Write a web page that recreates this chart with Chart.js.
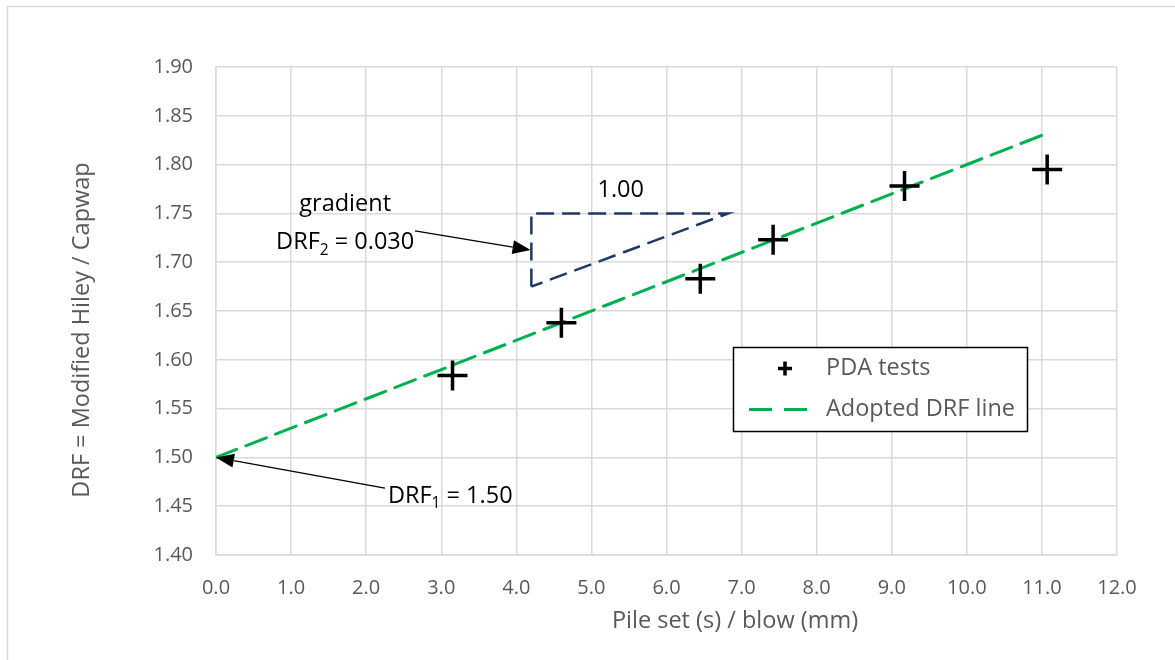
<!DOCTYPE html>
<html>
<head>
<meta charset="utf-8">
<script src="https://cdn.jsdelivr.net/npm/chart.js@4"></script>
<style>
  html, body { margin: 0; padding: 0; background: #fff; }
  #wrap { width: 1175px; height: 660px; position: relative; }
</style>
</head>
<body>
<div id="wrap"><canvas id="drfChart" width="1175" height="660"></canvas></div>
<script>
// ----- data -----
var pileSet = [3.15, 4.6, 6.45, 7.42, 9.17, 11.07];
var drfValues = [1.584, 1.638, 1.683, 1.723, 1.778, 1.795];

// adopted DRF line: DRF = 1.50 + 0.030 * s
var lineX = [0, 11.1];
var lineY = [1.5, 1.833];

// gradient triangle (vertical, horizontal, hypotenuse)
var triangleX = [4.2, 4.2, 6.82, 4.2];
var triangleY = [1.675, 1.75, 1.75, 1.675];

var seriesNames = ['PDA tests', 'Adopted DRF line'];
var xTitle = 'Pile set (s) / blow (mm)';
var yTitle = 'DRF = Modified Hiley / Capwap';

// text notes, in data units: [x, y, parts]  (parts: [text, isSubscript])
var notes = [
  [1.72, 1.759, [['gradient', false]]],
  [1.72, 1.720, [['DRF', false], ['2', true], [' = 0.030', false]]],
  [5.39, 1.774, [['1.00', false]]],
  [3.12, 1.4605, [['DRF', false], ['1', true], [' = 1.50', false]]]
];
// arrows, in data units: [fromX, fromY, tipX, tipY]
var arrows = [
  [2.65, 1.732, 4.19, 1.7125],
  [2.25, 1.4685, 0.0, 1.5]
];

var fontFamily = "'Open Sans', sans-serif";
var greyText = '#595959';
var gridGrey = '#D9D9D9';
var textSize = 23.5;

function toPoints(xs, ys) {
  return xs.map(function(x, i) { return { x: x, y: ys[i] }; });
}

function drawParts(ctx, cx, cy, parts, size) {
  var total = 0;
  parts.forEach(function(p) {
    ctx.font = (p[1] ? size * 0.66 : size) + 'px ' + fontFamily;
    total += ctx.measureText(p[0]).width;
  });
  var x = cx - total / 2;
  ctx.textAlign = 'left';
  ctx.textBaseline = 'middle';
  parts.forEach(function(p) {
    ctx.font = (p[1] ? size * 0.66 : size) + 'px ' + fontFamily;
    ctx.fillText(p[0], x, p[1] ? cy + size * 0.32 : cy);
    x += ctx.measureText(p[0]).width;
  });
}

function drawArrow(ctx, x1, y1, x2, y2) {
  var ang = Math.atan2(y2 - y1, x2 - x1);
  var len = 18, half = 7;
  var bx = x2 - Math.cos(ang) * len, by = y2 - Math.sin(ang) * len;
  ctx.strokeStyle = '#000';
  ctx.lineWidth = 1.3;
  ctx.beginPath();
  ctx.moveTo(x1, y1);
  ctx.lineTo(bx, by);
  ctx.stroke();
  ctx.fillStyle = '#000';
  ctx.beginPath();
  ctx.moveTo(x2, y2);
  ctx.lineTo(bx + Math.sin(ang) * half, by - Math.cos(ang) * half);
  ctx.lineTo(bx - Math.sin(ang) * half, by + Math.cos(ang) * half);
  ctx.closePath();
  ctx.fill();
}

var extrasPlugin = {
  id: 'extras',
  beforeDraw: function(chart) {
    var ctx = chart.ctx;
    ctx.save();
    ctx.strokeStyle = gridGrey;
    ctx.lineWidth = 1.5;
    ctx.beginPath();
    ctx.moveTo(7.5, 660);
    ctx.lineTo(7.5, 6.5);
    ctx.lineTo(1175, 6.5);
    ctx.stroke();
    ctx.restore();
  },
  afterDraw: function(chart) {
    var ctx = chart.ctx;
    var xs = chart.scales.x, ys = chart.scales.y;
    ctx.save();

    // axis titles (Excel places them slightly off-centre)
    ctx.fillStyle = greyText;
    ctx.font = textSize + 'px ' + fontFamily;
    ctx.textAlign = 'center';
    ctx.textBaseline = 'middle';
    ctx.fillText(xTitle, 735, 621);
    ctx.save();
    ctx.translate(82, 330);
    ctx.rotate(-Math.PI / 2);
    ctx.fillText(yTitle, 0, 0);
    ctx.restore();

    // notes and arrows
    ctx.fillStyle = '#000';
    notes.forEach(function(n) {
      drawParts(ctx, xs.getPixelForValue(n[0]), ys.getPixelForValue(n[1]), n[2], textSize);
    });
    arrows.forEach(function(a) {
      drawArrow(ctx, xs.getPixelForValue(a[0]), ys.getPixelForValue(a[1]),
                xs.getPixelForValue(a[2]), ys.getPixelForValue(a[3]));
    });

    // legend box
    var lx = 733.5, ly = 347.5, lw = 294, lh = 84;
    ctx.fillStyle = '#fff';
    ctx.fillRect(lx, ly, lw, lh);
    ctx.strokeStyle = '#000';
    ctx.lineWidth = 1.5;
    ctx.strokeRect(lx, ly, lw, lh);

    // marker entry
    var r1 = ly + 21, r2 = ly + 62;
    ctx.strokeStyle = '#000';
    ctx.lineWidth = 3.5;
    ctx.beginPath();
    ctx.moveTo(785 - 7, r1); ctx.lineTo(785 + 7, r1);
    ctx.moveTo(785, r1 - 7); ctx.lineTo(785, r1 + 7);
    ctx.stroke();

    // line entry
    ctx.strokeStyle = '#00B050';
    ctx.lineWidth = 3;
    ctx.setLineDash([23, 12]);
    ctx.beginPath();
    ctx.moveTo(749, r2); ctx.lineTo(812, r2);
    ctx.stroke();
    ctx.setLineDash([]);

    ctx.fillStyle = greyText;
    ctx.font = textSize + 'px ' + fontFamily;
    ctx.textAlign = 'left';
    ctx.textBaseline = 'middle';
    ctx.fillText(seriesNames[0], 826, r1);
    ctx.fillText(seriesNames[1], 826, r2);

    ctx.restore();
  }
};

var ctxDrf = document.getElementById('drfChart').getContext('2d');
var drfChart = new Chart(ctxDrf, {
  type: 'scatter',
  data: {
    datasets: [
      {
        label: seriesNames[0],
        data: toPoints(pileSet, drfValues),
        pointStyle: 'cross',
        pointRadius: 15,
        pointHoverRadius: 15,
        pointBorderWidth: 3.5,
        borderColor: '#000',
        backgroundColor: '#000'
      },
      {
        label: seriesNames[1],
        data: toPoints(lineX, lineY),
        showLine: true,
        pointRadius: 0,
        borderColor: '#00B050',
        borderWidth: 3,
        borderDash: [22, 10],
        borderCapStyle: 'round'
      },
      {
        label: 'gradient',
        data: toPoints(triangleX, triangleY),
        showLine: true,
        pointRadius: 0,
        borderColor: '#1F3864',
        borderWidth: 2.5,
        borderDash: [18, 8]
      }
    ]
  },
  options: {
    responsive: false,
    animation: false,
    devicePixelRatio: 1,
    layout: { padding: { left: 0, top: 67, right: 58, bottom: 0 } },
    plugins: {
      legend: { display: false },
      tooltip: { enabled: false }
    },
    scales: {
      x: {
        type: 'linear',
        min: 0,
        max: 12,
        afterFit: function(s) { s.height = 105; },
        ticks: {
          stepSize: 1,
          color: greyText,
          padding: 21,
          font: { family: fontFamily, size: 20 },
          callback: function(v) { return Number(v).toFixed(1); }
        },
        grid: { color: gridGrey, lineWidth: 1.5, drawTicks: false },
        border: { color: gridGrey, width: 1.5 }
      },
      y: {
        min: 1.4,
        max: 1.9,
        afterFit: function(s) { s.width = 216; },
        ticks: {
          stepSize: 0.05,
          color: greyText,
          padding: 23,
          font: { family: fontFamily, size: 20 },
          callback: function(v) { return Number(v).toFixed(2); }
        },
        grid: { color: gridGrey, lineWidth: 1.5, drawTicks: false },
        border: { color: gridGrey, width: 1.5 }
      }
    }
  },
  plugins: [extrasPlugin]
});
</script>
</body>
</html>
